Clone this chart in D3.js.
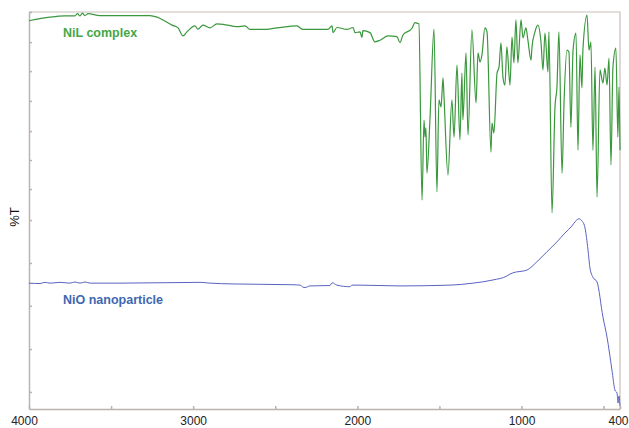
<!DOCTYPE html>
<html>
<head>
<meta charset="utf-8">
<script src="https://cdn.jsdelivr.net/npm/d3@7"></script>
<style>
  html, body { margin: 0; padding: 0; background: #fff; overflow: hidden; }
  svg { display: block; font-family: 'Liberation Sans', Arial, sans-serif; }
  .axis path, .axis line { stroke: #bbb3ae; stroke-width: 1.5; }
  .axis text { fill: #222; font-size: 12px; }
</style>
</head>
<body>
<svg id="chart" width="629" height="428"></svg>
<script>
// NiL complex spectrum (wavenumber cm-1, %T)
var nilWavenumber = [4000, 3872, 3781, 3720, 3705, 3689, 3675, 3660, 3640, 3568, 3263,
  3220, 3184, 3129, 3092, 3062, 3038, 2989, 2971, 2940, 2898, 2855, 2818, 2733, 2684,
  2654, 2575, 2489, 2368, 2331, 2246, 2179, 2154, 2148, 2124, 2063, 2026, 2014, 1984,
  1972, 1966, 1923, 1893, 1862, 1813, 1759, 1740, 1722, 1667, 1649, 1631, 1625, 1606,
  1594, 1588, 1582, 1576, 1557, 1533, 1515, 1503, 1490, 1478, 1472, 1448, 1424, 1411,
  1393, 1375, 1363, 1357, 1338, 1326, 1302, 1277, 1265, 1253, 1241, 1223, 1210, 1186,
  1180, 1168, 1149, 1137, 1125, 1113, 1101, 1089, 1070, 1058, 1046, 1034, 1022, 1003,
  991, 973, 961, 942, 936, 918, 900, 881, 869, 857, 839, 833, 814, 796, 784, 772, 753,
  741, 723, 711, 699, 686, 668, 656, 644, 632, 626, 601, 589, 577, 565, 552, 540, 522,
  504, 492, 479, 467, 455, 443, 425, 413, 406, 400];
var nilTransmittance = [97.8, 98.7, 99.0, 99.0, 99.6, 99.0, 99.7, 99.1, 99.6, 99.1, 99.1,
  98.7, 98.0, 96.7, 96.0, 94.0, 95.0, 96.5, 95.7, 96.7, 96.0, 97.0, 96.9, 96.3, 96.5,
  95.6, 95.6, 96.0, 96.5, 95.6, 95.6, 95.6, 96.5, 94.8, 96.1, 95.6, 96.1, 94.8, 95.0,
  93.6, 95.3, 94.8, 92.5, 92.9, 94.0, 93.8, 92.3, 94.2, 95.9, 97.3, 97.1, 97.0, 52.6,
  72.8, 68.5, 70.8, 59.4, 73.6, 95.7, 54.7, 77.9, 76.1, 83.4, 78.6, 58.9, 77.9, 68.5,
  86.6, 67.8, 84.6, 72.8, 89.7, 69.0, 95.5, 77.1, 89.7, 87.4, 89.2, 96.0, 95.0, 64.7,
  72.0, 69.5, 84.6, 86.1, 92.2, 83.6, 81.6, 91.2, 81.6, 93.7, 87.2, 98.0, 87.2, 98.0,
  93.5, 96.0, 92.9, 87.9, 91.2, 95.0, 96.7, 92.2, 85.4, 94.7, 84.9, 95.0, 49.4, 76.1,
  81.1, 95.0, 59.4, 77.1, 90.4, 89.9, 71.0, 90.4, 94.7, 65.2, 89.2, 80.9, 90.4, 99.2,
  90.4, 92.4, 65.2, 86.1, 53.4, 85.4, 82.1, 85.9, 81.6, 88.4, 61.5, 86.1, 90.9, 68.5,
  81.1, 65.2];

// NiO nanoparticle spectrum (wavenumber cm-1, %T)
var nioWavenumber = [4000, 3933, 3903, 3872, 3811, 3750, 3720, 3689, 3659, 3628, 3446,
  2958, 2898, 2757, 2392, 2349, 2331, 2319, 2288, 2167, 2154, 2124, 2045, 2033, 1984,
  1740, 1436, 1296, 1174, 1089, 1070, 1052, 967, 906, 845, 784, 736, 693, 669, 650,
  632, 613, 595, 583, 565, 540, 504, 479, 449, 431, 418, 412, 406, 400];
var nioTransmittance = [31.7, 31.6, 31.9, 31.7, 31.9, 31.7, 32.0, 31.7, 32.0, 31.7, 31.7,
  31.9, 31.7, 31.5, 31.3, 31.2, 30.7, 30.6, 31.0, 31.1, 31.8, 31.2, 30.8, 31.2, 31.2,
  31.0, 31.2, 31.7, 32.5, 33.5, 34.0, 34.3, 35.0, 37.1, 39.6, 42.1, 44.3, 46.1, 47.4,
  47.9, 47.4, 45.6, 40.1, 35.5, 33.2, 32.0, 23.2, 18.1, 9.8, 4.8, 4.0, 1.5, 3.3, 0.8];

var xTickValues = [4000, 3500, 3000, 2500, 2000, 1500, 1000, 500, 400];
var xTickLabels = {4000: '4000', 3000: '3000', 2000: '2000', 1000: '1000', 400: '400'};
var yTickValues = [100, 92.4, 85.1, 77.6, 70.0, 62.7, 55.4, 47.6, 36.8, 26.0, 15.1, 4.3];

var svg = d3.select('#chart');
var plotLeft = 29, plotRight = 620, plotTop = 12, plotBottom = 409;

var x = d3.scaleLinear().domain([4000, 400]).range([plotLeft, plotRight]);
var y = d3.scaleLinear().domain([0, 100]).range([plotBottom, plotTop]);

// frame (top and right)
svg.append('path')
  .attr('d', 'M' + plotLeft + ',' + plotTop + 'H' + plotRight + 'V' + plotBottom)
  .attr('fill', 'none')
  .attr('stroke', '#c6bfbb')
  .attr('stroke-width', 1.2);

// bottom axis, ticks pointing inward
var xAxis = svg.append('g')
  .attr('class', 'axis')
  .attr('transform', 'translate(0,' + plotBottom + ')')
  .call(d3.axisBottom(x)
    .tickValues(xTickValues)
    .tickSizeInner(-3)
    .tickSizeOuter(0)
    .tickPadding(7)
    .tickFormat(function(d) { return xTickLabels[d] || ''; }));
xAxis.selectAll('text')
  .attr('dx', function(d) { return d == 4000 ? -5 : d == 400 ? -2 : 0; });

// left axis, unlabeled ticks
svg.append('g')
  .attr('class', 'axis')
  .attr('transform', 'translate(' + plotLeft + ',0)')
  .call(d3.axisLeft(y)
    .tickValues(yTickValues)
    .tickSizeInner(-3)
    .tickSizeOuter(0)
    .tickFormat(''));

svg.append('text')
  .attr('transform', 'translate(19,217) rotate(-90)')
  .attr('text-anchor', 'middle')
  .attr('font-size', 13)
  .attr('fill', '#111')
  .text('%T');

/**
 * Draws one spectrum as a smoothed line.
 * @param {!Array<number>} wn
 * @param {!Array<number>} t
 * @param {string} color
 * @param {number} width
 */
function drawSpectrum(wn, t, color, width) {
  var line = d3.line()
    .curve(d3.curveMonotoneX)
    .x(function(d, i) { return x(wn[i]); })
    .y(function(d, i) { return y(t[i]); });
  svg.append('path')
    .datum(wn)
    .attr('d', line)
    .attr('fill', 'none')
    .attr('stroke', color)
    .attr('stroke-width', width)
    .attr('stroke-linejoin', 'round');
}

drawSpectrum(nilWavenumber, nilTransmittance, '#3a983c', 1.2);
drawSpectrum(nioWavenumber, nioTransmittance, '#5a62c2', 1);

svg.append('text')
  .attr('x', 63).attr('y', 37)
  .attr('font-size', 12.5)
  .attr('font-weight', 'bold')
  .attr('fill', '#46a646')
  .text('NiL complex');

svg.append('text')
  .attr('x', 63).attr('y', 304)
  .attr('font-size', 12.5)
  .attr('font-weight', 'bold')
  .attr('fill', '#4068b0')
  .text('NiO nanoparticle');
</script>
</body>
</html>
